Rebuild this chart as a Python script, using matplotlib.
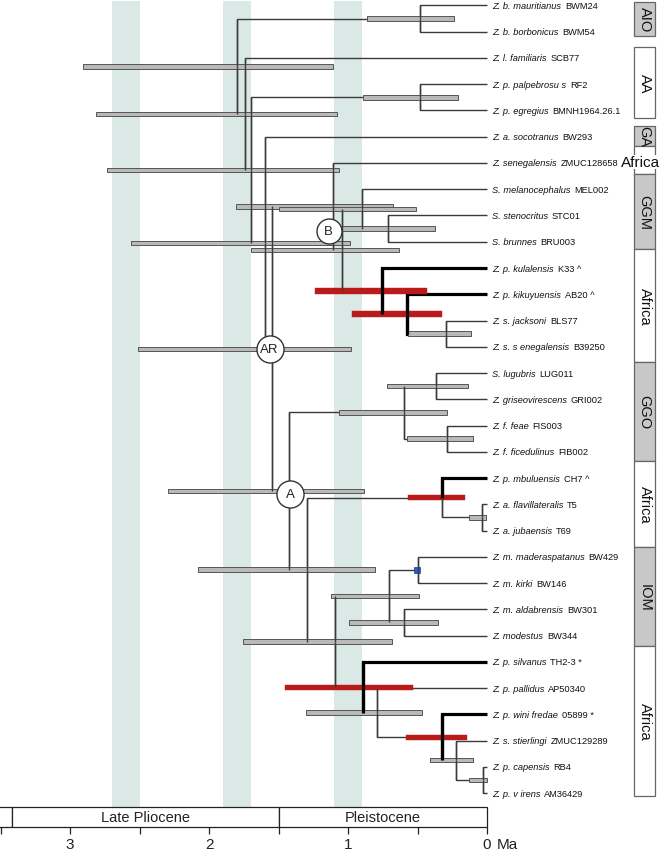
import matplotlib
matplotlib.use("Agg")
import matplotlib.pyplot as plt
import matplotlib.transforms as mtransforms
from matplotlib.patches import Rectangle

plt.rcParams['font.family'] = ['Liberation Sans', 'DejaVu Sans']

# ---------------- data ----------------
tip_names = ["Z. b. mauritianus", "Z. b. borbonicus", "Z. l. familiaris", "Z. p. palpebrosu s",
             "Z. p. egregius", "Z. a. socotranus", "Z. senegalensis", "S. melanocephalus",
             "S. stenocritus", "S. brunnes", "Z. p. kulalensis", "Z. p. kikuyuensis",
             "Z. s. jacksoni", "Z. s. s enegalensis", "S. lugubris", "Z. griseovirescens",
             "Z. f. feae", "Z. f. ficedulinus", "Z. p. mbuluensis", "Z. a. flavillateralis",
             "Z. a. jubaensis", "Z. m. maderaspatanus", "Z. m. kirki", "Z. m. aldabrensis",
             "Z. modestus", "Z. p. silvanus", "Z. p. pallidus", "Z. p. wini fredae",
             "Z. s. stierlingi", "Z. p. capensis", "Z. p. v irens"]
tip_vouchers = ["BWM24", "BWM54", "SCB77", "RF2", "BMNH1964.26.1", "BW293", "ZMUC128658",
                "MEL002", "STC01", "BRU003", "K33", "AB20", "BLS77", "B39250", "LUG011",
                "GRI002", "FIS003", "FIB002", "CH7", "T5", "T69", "BW429", "BW146", "BW301",
                "BW344", "TH2-3", "AP50340", "05899", "ZMUC129289", "RB4", "AM36429"]
tip_marks = ["", "", "", "", "", "", "", "", "", "", "^", "^", "", "", "", "", "", "", "^",
             "", "", "", "", "", "", "*", "", "*", "", "", ""]

node_ids = ["root", "AIO", "Y", "Z", "PE", "W", "AR", "U", "B", "GGM", "SB", "Af1", "K2",
            "JS", "A", "GGO", "LG", "FF", "S", "Af2", "FJ", "R", "IOM", "MK", "AM", "Af3",
            "P", "O", "N", "CV"]
node_children = [["AIO", "Y"], [0, 1], [2, "Z"], ["PE", "W"], [3, 4], [5, "AR"], ["U", "A"],
                 [6, "B"], ["GGM", "Af1"], [7, "SB"], [8, 9], [10, "K2"], [11, "JS"], [12, 13],
                 ["GGO", "S"], ["LG", "FF"], [14, 15], [16, 17], ["Af2", "R"], [18, "FJ"],
                 [19, 20], ["IOM", "Af3"], ["MK", "AM"], [21, 22], [23, 24], [25, "P"],
                 [26, "O"], [27, "N"], [28, "CV"], [29, 30]]
node_ages = [1.80, 0.48, 1.74, 1.70, 0.48, 1.60, 1.55, 1.11, 1.045, 0.90, 0.71, 0.753, 0.578,
             0.297, 1.424, 0.60, 0.369, 0.29, 1.295, 0.326, 0.038, 1.094, 0.705, 0.50, 0.597,
             0.894, 0.789, 0.322, 0.225, 0.031]
hpd_old = [2.906, 0.863, 2.813, 2.734, 0.892, 2.561, 2.511, 1.806, 1.698, 1.496, 1.043, 1.237,
           0.971, 0.568, 2.295, 1.065, 0.719, 0.576, 2.079, 0.568, 0.129, 1.755, 1.122, 0.525,
           0.993, 1.453, 1.302, 0.583, 0.410, 0.129]
hpd_young = [1.108, 0.237, 1.079, 1.065, 0.209, 0.986, 0.978, 0.676, 0.633, 0.511, 0.374, 0.432,
             0.324, 0.115, 0.885, 0.288, 0.137, 0.101, 0.806, 0.158, 0.007, 0.683, 0.489, 0.482,
             0.353, 0.532, 0.468, 0.144, 0.101, 0.0]
bar_kind = ["g", "g", "g", "g", "g", "g", "g", "g", "g", "g", "g", "r", "r", "g", "g", "g", "g",
            "g", "g", "r", "g", "g", "g", "b", "g", "r", "g", "r", "g", "g"]
thick_branches = [10, "K2", 11, "JS", 18, 25, "P", 27, "N"]

node_circle_labels = ["AR", "A", "B"]
node_circle_nodes = ["AR", "A", "B"]

climate_bands = [(2.7, 2.5), (1.9, 1.7), (1.1, 0.9)]
epoch_names = ["", "Late Pliocene", "Pleistocene"]
epoch_bounds = [3.75, 3.42, 1.5, 0.0]

region_names = ["AIO", "AA", "GA", "", "GGM", "Africa", "GGO", "Africa", "IOM", "Africa"]
region_shaded = [True, False, True, False, True, False, True, False, True, False]

# ---------------- layout / style ----------------
W, H = 662, 854
fig = plt.figure(figsize=(W / 100, H / 100), dpi=100)
XL, XR = 487 / 139, (487 - 662) / 139
ax = fig.add_axes([0, 1 - 808 / H, 1, 806 / H])
ax.set_xlim(XL, XR)
ax.set_ylim(30.53, -0.17)
ax.axis('off')

idx = {n: i for i, n in enumerate(node_ids)}


def age(c):
    return 0.0 if isinstance(c, int) else node_ages[idx[c]]


def ypos(c):
    if isinstance(c, int):
        return float(c)
    ch = node_children[idx[c]]
    return (ypos(ch[0]) + ypos(ch[-1])) / 2.0


band_color = '#dbe9e6'
for a, b in climate_bands:
    ax.axvspan(a, b, color=band_color, lw=0, zorder=0)

thin_c, thick_c = '#3a3a3a', '#000000'
for n, ch in zip(node_ids, node_children):
    xn, yn = age(n), ypos(n)
    for c in ch:
        thick = c in thick_branches
        col = thick_c if thick else thin_c
        lw = 2.3 if thick else 1.0
        xc, yc = age(c), ypos(c)
        ax.plot([xn, xn, xc], [yn, yc, yc], color=col, lw=lw, zorder=2,
                solid_joinstyle='miter', solid_capstyle='butt')
        ax.plot([xn, xn], [yn, yc], color=col, lw=lw, zorder=4, solid_capstyle='butt')

bar_styles = {"g": dict(color='#b9b9b9', edgecolor='#555555', linewidth=0.7, height=0.17),
              "r": dict(color='#bb1a1a', edgecolor='#bb1a1a', linewidth=0.3, height=0.2),
              "b": dict(color='#2a5cc8', edgecolor='#1a3c90', linewidth=0.5, height=0.22)}
for n, o, yg, k in zip(node_ids, hpd_old, hpd_young, bar_kind):
    st = bar_styles[k]
    ax.barh(ypos(n), o - yg, left=yg, height=st['height'], color=st['color'],
            edgecolor=st['edgecolor'], linewidth=st['linewidth'], zorder=3)

# tip labels
lab_tr = mtransforms.offset_copy(ax.transData, fig=fig, x=5, y=0, units='dots')
for i, (nm, v, mk) in enumerate(zip(tip_names, tip_vouchers, tip_marks)):
    t = ax.text(0, i, nm, transform=lab_tr, fontstyle='italic', fontsize=6.7, va='center',
                ha='left', color='#111111', zorder=5)
    ax.annotate(v + ((" " + mk) if mk else ""), xy=(1, 0), xycoords=t, xytext=(2.8, 0),
                textcoords='offset points', fontsize=6.7, va='bottom', ha='left',
                color='#111111', zorder=5)

# node circle labels
circle_offsets = [(-2, 0), (1, -3), (-13, 19)]
circle_sizes = [19.5, 19.5, 18]
for lab, n, (dx, dy), sz in zip(node_circle_labels, node_circle_nodes, circle_offsets, circle_sizes):
    tr = mtransforms.offset_copy(ax.transData, fig=fig, x=dx, y=dy, units='dots')
    ax.plot(age(n), ypos(n), marker='o', ms=sz, mfc='white', mec='#333333', mew=1.0,
            transform=tr, zorder=6)
    ax.text(age(n), ypos(n), lab, transform=tr, ha='center', va='center', fontsize=9.5,
            zorder=7, color='#222222')

# region boxes
region_y = [(-0.13, 1.16), (1.58, 4.29), (4.59, 5.35), (5.35, 6.42), (6.42, 9.28),
            (9.28, 13.58), (13.58, 17.35), (17.35, 20.63), (20.63, 24.40), (24.40, 30.11)]
bx0, bx1 = (487 - 634) / 139, (487 - 655) / 139
for nm, sh, (y0, y1) in zip(region_names, region_shaded, region_y):
    ax.add_patch(Rectangle((bx0, y0), bx1 - bx0, y1 - y0, facecolor='#c8c8c8' if sh else 'white',
                           edgecolor='#666666', lw=0.9, zorder=3, clip_on=False))
    if nm:
        ax.text((bx0 + bx1) / 2, (y0 + y1) / 2, nm, rotation=270, ha='center', va='center',
                fontsize=10.5, zorder=4, color='#111111')
ax.text((487 - 621) / 139, (163 - 6.5) / 26.25, "Africa", fontsize=11, ha='left', va='center',
        zorder=5, color='#111111',
        bbox=dict(facecolor='white', edgecolor='none', pad=0.0))

# epoch axis
ax2 = fig.add_axes([0, 1 - 828 / H, 1, 20 / H])
ax2.set_xlim(XL, XR)
ax2.set_ylim(0, 1)
for s in ax2.spines.values():
    s.set_visible(False)
for nm, a, b in zip(epoch_names, epoch_bounds[:-1], epoch_bounds[1:]):
    ax2.add_patch(Rectangle((b, 0), a - b, 1, facecolor='white', edgecolor='#222222', lw=0.9,
                            clip_on=False))
    if nm:
        ax2.text((a + b) / 2, 0.5, nm, ha='center', va='center', fontsize=10.5, color='#222222')
ax2.set_yticks([])
ax2.set_xticks([3, 2, 1, 0])
ax2.set_xticklabels(["3", "2", "1", "0"])
ax2.set_xticks([3.5, 2.5, 1.5, 0.5], minor=True)
ax2.tick_params(axis='x', which='both', direction='out', length=5, width=0.9, labelsize=11,
                pad=2, colors='#222222')
ma_tr = mtransforms.offset_copy(ax2.get_xaxis_transform(), fig=fig, x=0, y=-(7 + 2.8),
                                units='dots')
ax2.text((487 - 497) / 139, 0, "Ma", transform=ma_tr, ha='left', va='top', fontsize=11,
         color='#222222')
ax2.patch.set_alpha(0)

fig.savefig("out.png", dpi=100)
